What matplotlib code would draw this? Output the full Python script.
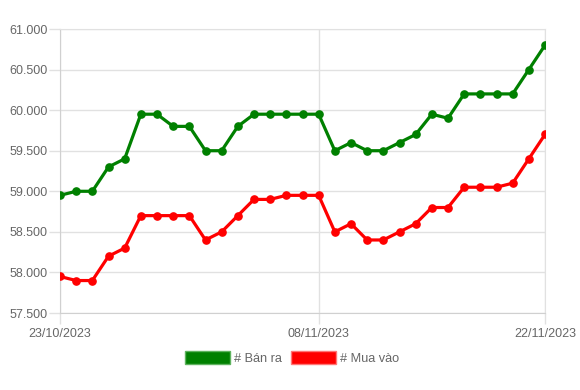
import matplotlib
matplotlib.use("Agg")
import matplotlib.pyplot as plt
from matplotlib.patches import Patch
from matplotlib.ticker import FuncFormatter

# -----------------------------
# Data (daily prices, 23/10/2023 -> 22/11/2023)
# -----------------------------
dates = [
    "23/10/2023", "24/10/2023", "25/10/2023", "26/10/2023", "27/10/2023",
    "28/10/2023", "29/10/2023", "30/10/2023", "31/10/2023", "01/11/2023",
    "02/11/2023", "03/11/2023", "04/11/2023", "05/11/2023", "06/11/2023",
    "07/11/2023", "08/11/2023", "09/11/2023", "10/11/2023", "11/11/2023",
    "12/11/2023", "13/11/2023", "14/11/2023", "15/11/2023", "16/11/2023",
    "17/11/2023", "18/11/2023", "19/11/2023", "20/11/2023", "21/11/2023",
    "22/11/2023",
]

ban_ra = [
    58950, 59000, 59000, 59300, 59400, 59950, 59950, 59800, 59800, 59500,
    59500, 59800, 59950, 59950, 59950, 59950, 59950, 59500, 59600, 59500,
    59500, 59600, 59700, 59950, 59900, 60200, 60200, 60200, 60200, 60500,
    60800,
]

mua_vao = [
    57950, 57900, 57900, 58200, 58300, 58700, 58700, 58700, 58700, 58400,
    58500, 58700, 58900, 58900, 58950, 58950, 58950, 58500, 58600, 58400,
    58400, 58500, 58600, 58800, 58800, 59050, 59050, 59050, 59100, 59400,
    59700,
]

labels = ["# Bán ra", "# Mua vào"]
shown_ticks = ["23/10/2023", "08/11/2023", "22/11/2023"]

# -----------------------------
# Style
# -----------------------------
plt.rcParams["font.family"] = ["Liberation Sans", "DejaVu Sans"]
GRID = "#e1e1e1"
TEXT = "#666666"
GREEN = "#008000"
RED = "#ff0000"

fig = plt.figure(figsize=(5.8, 3.9), dpi=100)
ax = fig.add_axes([60 / 580, 1 - 313 / 390, 485 / 580, 284 / 390])

x = list(range(len(dates)))
ax.plot(x, ban_ra, color=GREEN, lw=2.3, marker="o", ms=5.2, zorder=3)
ax.plot(x, mua_vao, color=RED, lw=2.3, marker="o", ms=5.2, zorder=3)

ax.set_xlim(0, len(dates) - 1)
ax.set_ylim(57500, 61000)
ax.set_yticks(range(57500, 61001, 500))
ax.yaxis.set_major_formatter(
    FuncFormatter(lambda v, p: f"{int(v):,}".replace(",", "."))
)
ax.set_xticks([dates.index(d) for d in shown_ticks])
ax.set_xticklabels(shown_ticks)

ax.grid(True, color=GRID, lw=1)
ax.set_axisbelow(True)
for s in ax.spines.values():
    s.set_color(GRID)
ax.spines["left"].set_color("#d0d0d0")
ax.spines["bottom"].set_color("#d0d0d0")
ax.tick_params(axis="both", colors=GRID, labelcolor=TEXT, labelsize=9,
               length=8, width=1)
ax.tick_params(axis="y", pad=1)
ax.tick_params(axis="x", pad=3)

handles = [
    Patch(facecolor=GREEN, edgecolor="#5fb35f", lw=1),
    Patch(facecolor=RED, edgecolor="#ff7777", lw=1),
]
fig.legend(handles, labels, loc="center", bbox_to_anchor=(292 / 580, 1 - 358 / 390),
           ncol=2, frameon=False, fontsize=9.2, labelcolor=TEXT,
           handlelength=3.5, handleheight=1.25, handletextpad=0.3,
           columnspacing=0.75)

fig.savefig("out.png", dpi=100)
